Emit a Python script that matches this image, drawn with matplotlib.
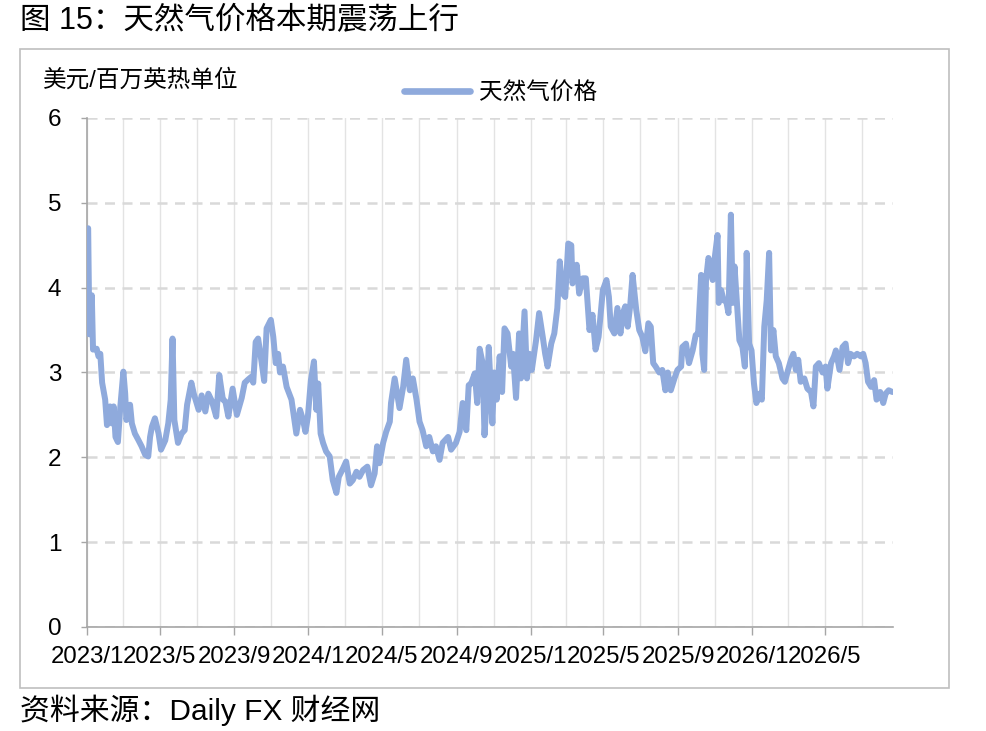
import pandas as pd
import matplotlib
matplotlib.use("Agg")
import matplotlib.pyplot as plt
import matplotlib.dates as mdates
from matplotlib.patches import Rectangle
from matplotlib.ticker import FuncFormatter

plt.rcParams['font.family'] = ['Liberation Sans', 'Noto Sans CJK SC', 'DejaVu Sans']

title = "图 15：天然气价格本期震荡上行"
source = "资料来源：Daily FX 财经网"
unit = "美元/百万英热单位"
series_name = "天然气价格"

# readings of the natural gas price line (date, USD/MMBtu)
dates_2023 = ["2023-01-03", "2023-01-05", "2023-01-09", "2023-01-11", "2023-01-17", "2023-01-20",
              "2023-01-23", "2023-01-26", "2023-01-31", "2023-02-03", "2023-02-08", "2023-02-11",
              "2023-02-14", "2023-02-17", "2023-02-21", "2023-02-25", "2023-03-02", "2023-03-05",
              "2023-03-07", "2023-03-13", "2023-03-16", "2023-03-21", "2023-03-27", "2023-04-01",
              "2023-04-07", "2023-04-12", "2023-04-15", "2023-04-18", "2023-04-23", "2023-04-29",
              "2023-05-03", "2023-05-10", "2023-05-15", "2023-05-19", "2023-05-22", "2023-05-25",
              "2023-05-31", "2023-06-06", "2023-06-11", "2023-06-15", "2023-06-22", "2023-06-26",
              "2023-07-04", "2023-07-09", "2023-07-15", "2023-07-20", "2023-07-26", "2023-08-02",
              "2023-08-07", "2023-08-13", "2023-08-17", "2023-08-22", "2023-08-29", "2023-09-05",
              "2023-09-13", "2023-09-18", "2023-09-24", "2023-09-29", "2023-10-02", "2023-10-06",
              "2023-10-10", "2023-10-16", "2023-10-20", "2023-10-24", "2023-10-31", "2023-11-04",
              "2023-11-08", "2023-11-12", "2023-11-15", "2023-11-20", "2023-11-26", "2023-12-04",
              "2023-12-12", "2023-12-18", "2023-12-23", "2023-12-27", "2023-12-31"]
price_2023 = [4.70, 3.45, 3.91, 3.27, 3.28, 3.19,
              3.22, 2.88, 2.68, 2.38, 2.60, 2.40,
              2.60, 2.24, 2.18, 2.60, 3.01, 2.75,
              2.44, 2.62, 2.40, 2.28, 2.20, 2.13,
              2.03, 2.01, 2.24, 2.36, 2.46, 2.28,
              2.09, 2.20, 2.40, 2.68, 3.40, 2.44,
              2.17, 2.28, 2.32, 2.62, 2.88, 2.75,
              2.56, 2.73, 2.54, 2.75, 2.66, 2.48,
              2.97, 2.68, 2.66, 2.48, 2.81, 2.50,
              2.70, 2.88, 2.92, 2.95, 2.88, 3.36,
              3.40, 3.11, 2.90, 3.52, 3.62, 3.42,
              3.11, 3.22, 3.00, 3.07, 2.83, 2.68,
              2.28, 2.56, 2.44, 2.30, 2.48]

dates_2024 = ["2024-01-05", "2024-01-10", "2024-01-14", "2024-01-17", "2024-01-21", "2024-01-25",
              "2024-01-30", "2024-02-05", "2024-02-10", "2024-02-16", "2024-02-20", "2024-02-27",
              "2024-03-03", "2024-03-09", "2024-03-14", "2024-03-20", "2024-03-25", "2024-03-31",
              "2024-04-07", "2024-04-13", "2024-04-19", "2024-04-23", "2024-04-27", "2024-05-03",
              "2024-05-08", "2024-05-14", "2024-05-16", "2024-05-22", "2024-05-27", "2024-05-30",
              "2024-06-05", "2024-06-10", "2024-06-16", "2024-06-21", "2024-06-27", "2024-07-02",
              "2024-07-07", "2024-07-13", "2024-07-18", "2024-07-24", "2024-07-29", "2024-08-04",
              "2024-08-09", "2024-08-18", "2024-08-23", "2024-08-31", "2024-09-06", "2024-09-11",
              "2024-09-17", "2024-09-21", "2024-09-25", "2024-10-01", "2024-10-05", "2024-10-09",
              "2024-10-14", "2024-10-17", "2024-10-21", "2024-10-24", "2024-10-30", "2024-11-02",
              "2024-11-06", "2024-11-11", "2024-11-15", "2024-11-19", "2024-11-24", "2024-11-30",
              "2024-12-03", "2024-12-08", "2024-12-13", "2024-12-16", "2024-12-22", "2024-12-26",
              "2024-12-30"]
price_2024 = [2.91, 3.13, 2.56, 2.87, 2.28, 2.17,
              2.07, 2.01, 1.73, 1.58, 1.77, 1.87,
              1.95, 1.69, 1.73, 1.83, 1.77, 1.85,
              1.89, 1.67, 1.81, 2.13, 1.93, 2.17,
              2.30, 2.42, 2.64, 2.93, 2.71, 2.58,
              2.83, 3.15, 2.79, 2.93, 2.68, 2.42,
              2.32, 2.13, 2.24, 2.07, 2.13, 1.97,
              2.17, 2.24, 2.09, 2.17, 2.30, 2.64,
              2.32, 2.85, 2.87, 2.99, 2.64, 3.28,
              3.11, 2.26, 2.71, 3.30, 2.40, 3.00,
              2.68, 3.19, 2.77, 3.52, 3.46, 3.07,
              3.22, 2.70, 3.46, 2.93, 3.72, 2.93,
              3.22]

dates_2025 = ["2025-01-03", "2025-01-10", "2025-01-15", "2025-01-21", "2025-01-25", "2025-01-29",
              "2025-02-04", "2025-02-09", "2025-02-14", "2025-02-18", "2025-02-23", "2025-02-27",
              "2025-03-04", "2025-03-09", "2025-03-11", "2025-03-18", "2025-03-22", "2025-03-28",
              "2025-04-02", "2025-04-08", "2025-04-13", "2025-04-18", "2025-04-23", "2025-04-30",
              "2025-05-06", "2025-05-10", "2025-05-13", "2025-05-19", "2025-05-24", "2025-05-29",
              "2025-06-02", "2025-06-06", "2025-06-10", "2025-06-14", "2025-06-18", "2025-06-24",
              "2025-06-29", "2025-07-04", "2025-07-09", "2025-07-14", "2025-07-18", "2025-07-22",
              "2025-07-26", "2025-08-01", "2025-08-06", "2025-08-11", "2025-08-15", "2025-08-20",
              "2025-08-26", "2025-08-31", "2025-09-06", "2025-09-08", "2025-09-14", "2025-09-19",
              "2025-09-25", "2025-09-30", "2025-10-04", "2025-10-09", "2025-10-11", "2025-10-14",
              "2025-10-17", "2025-10-21", "2025-10-25", "2025-10-28", "2025-11-01", "2025-11-05",
              "2025-11-07", "2025-11-11", "2025-11-15", "2025-11-19", "2025-11-23", "2025-11-27",
              "2025-11-30", "2025-12-03", "2025-12-08", "2025-12-11", "2025-12-16", "2025-12-20",
              "2025-12-23", "2025-12-27", "2025-12-31"]
price_2025 = [3.03, 3.38, 3.70, 3.42, 3.22, 3.07,
              3.34, 3.46, 3.76, 4.31, 3.93, 3.89,
              4.52, 4.50, 4.05, 4.27, 3.93, 4.11,
              4.11, 3.50, 3.68, 3.27, 3.42, 3.97,
              4.09, 3.89, 3.54, 3.46, 3.76, 3.46,
              3.70, 3.78, 3.54, 3.78, 4.15, 3.74,
              3.50, 3.42, 3.25, 3.58, 3.54, 3.11,
              3.07, 3.00, 3.03, 2.79, 3.00, 2.79,
              2.93, 3.03, 3.07, 3.30, 3.34, 3.11,
              3.26, 3.44, 3.46, 4.15, 3.22, 3.03,
              4.09, 4.35, 4.27, 4.09, 4.39, 4.62,
              3.82, 3.97, 3.85, 3.85, 3.70, 4.86,
              3.82, 4.25, 3.70, 3.38, 3.30, 3.07,
              4.41, 3.34, 3.26]

dates_2026 = ["2026-01-04", "2026-01-08", "2026-01-13", "2026-01-17", "2026-01-21", "2026-01-25",
              "2026-01-29", "2026-02-01", "2026-02-05", "2026-02-09", "2026-02-14", "2026-02-20",
              "2026-02-24", "2026-02-28", "2026-03-06", "2026-03-10", "2026-03-14", "2026-03-18",
              "2026-03-22", "2026-03-28", "2026-04-02", "2026-04-08", "2026-04-12", "2026-04-16",
              "2026-04-21", "2026-04-27", "2026-05-02", "2026-05-05", "2026-05-11", "2026-05-16",
              "2026-05-19", "2026-05-25", "2026-05-30", "2026-06-04", "2026-06-08", "2026-06-12",
              "2026-06-18", "2026-06-23", "2026-06-29", "2026-07-03", "2026-07-07", "2026-07-11",
              "2026-07-16", "2026-07-21", "2026-07-25", "2026-07-31", "2026-08-05", "2026-08-09",
              "2026-08-14", "2026-08-20"]
price_2026 = [2.87, 2.64, 2.75, 2.68, 3.54, 3.85,
              4.41, 3.26, 3.50, 3.19, 3.11, 2.93,
              2.89, 3.00, 3.15, 3.22, 3.03, 3.15,
              2.89, 2.93, 2.81, 2.77, 2.60, 3.07,
              3.11, 3.00, 3.07, 2.81, 3.11, 3.19,
              3.26, 3.03, 3.30, 3.34, 3.11, 3.22,
              3.19, 3.22, 3.19, 3.22, 3.11, 2.89,
              2.83, 2.91, 2.68, 2.77, 2.64, 2.75,
              2.79, 2.77]

dates = pd.to_datetime(dates_2023 + dates_2024 + dates_2025 + dates_2026)
price = price_2023 + price_2024 + price_2025 + price_2026

y_ticks = [0, 1, 2, 3, 4, 5, 6]

line_color = "#8FAADC"
axis_color = "#A6A6A6"

fig = plt.figure(figsize=(9.87, 7.31), dpi=100)
ax = fig.add_axes([0.0881, 0.1423, 0.8166, 0.6963])

ax.plot(dates, price, color=line_color, lw=4.3, solid_joinstyle="round",
        solid_capstyle="round", label=series_name, zorder=3)

ax.set_ylim(0, 6)
ax.set_yticks(y_ticks)
ax.set_xlim(pd.Timestamp("2023-01-01"), pd.Timestamp("2026-08-21"))

ax.xaxis.set_major_locator(mdates.MonthLocator(bymonth=[1, 5, 9]))
ax.xaxis.set_minor_locator(mdates.MonthLocator(bymonth=[3, 7, 11]))
ax.xaxis.set_major_formatter(FuncFormatter(
    lambda v, pos: f"{mdates.num2date(v).year}/{mdates.num2date(v).month}"))

ax.grid(axis="x", which="both", color="#E3E3E3", lw=1.0, zorder=0)
ax.grid(axis="y", which="major", color="#D9D9D9", lw=1.8, ls=(0, (4, 3)), zorder=0)

for s in ["top", "right"]:
    ax.spines[s].set_visible(False)
for s in ["left", "bottom"]:
    ax.spines[s].set_color(axis_color)
    ax.spines[s].set_linewidth(1.2)

ax.tick_params(axis="y", length=4.5, width=1.0, color=axis_color, pad=14, labelsize=17.5)
ax.tick_params(axis="x", which="major", length=5.5, width=1.0, color=axis_color, pad=8, labelsize=17.3)
ax.tick_params(axis="x", which="minor", length=0)

ax.legend(loc="center", bbox_to_anchor=(0.507, 0.873), bbox_transform=fig.transFigure,
          frameon=False, fontsize=17, handlelength=2.8, handletextpad=0.35)
for h in ax.get_legend().get_lines():
    h.set_linewidth(4.8)

fig.text(43 / 987, 1 - 80 / 731, unit, fontsize=17, ha="left", va="center")
fig.text(20 / 987, 1 - 20 / 731, title, fontsize=22, ha="left", va="center")
fig.text(20 / 987, 1 - 710 / 731, source, fontsize=21.5, ha="left", va="center")

fig.patches.append(Rectangle((20 / 987, 1 - 688 / 731), 929 / 987, 639 / 731,
                             transform=fig.transFigure, fill=False,
                             edgecolor="#BFBFBF", lw=1.2))

fig.savefig("out.png", dpi=100)
